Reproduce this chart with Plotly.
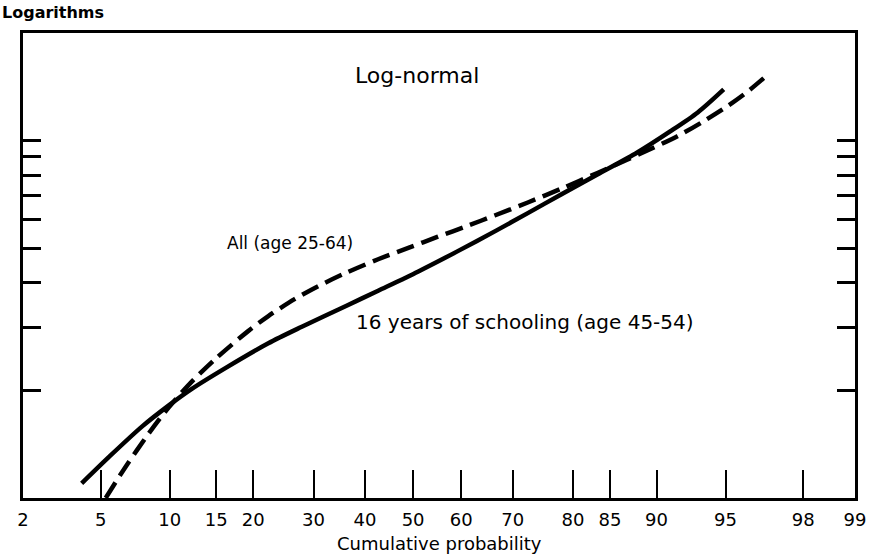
import math
import plotly.graph_objects as go
from statistics import NormalDist

# ---- data (cumulative probability %, value on log scale) ----
school_p = [4.05, 5.47, 7.69, 9.92, 12.2, 16.2, 22.3, 27.9, 36.3, 42.7, 51.0,
            59.3, 66.9, 72.7, 78.2, 83.4, 88.1, 91.2, 93.3, 94.9]
school_v = [1.099, 1.303, 1.586, 1.816, 2.020, 2.313, 2.710, 3.014, 3.451, 3.802, 4.298,
            4.906, 5.599, 6.268, 7.063, 8.036, 9.261, 10.605, 11.988, 13.906]

all_p = [5.28, 6.51, 8.21, 9.92, 12.2, 14.9, 19.3, 22.3, 26.7, 30.9, 36.0, 42.7, 49.0,
         55.2, 61.4, 66.6, 72.7, 78.2, 83.4, 87.0, 91.8, 93.7, 95.1, 96.1, 96.9]
all_v = [1.0, 1.224, 1.517, 1.794, 2.116, 2.450, 2.935, 3.229, 3.606, 3.916, 4.254, 4.656,
         5.011, 5.383, 5.782, 6.171, 6.712, 7.332, 8.119, 8.841, 10.288, 11.334, 12.478,
         13.729, 15.279]

prob_ticks = [2, 5, 10, 15, 20, 30, 40, 50, 60, 70, 80, 85, 90, 95, 98, 99]
log_ticks = [2, 3, 4, 5, 6, 7, 8, 9, 10]
y_range = [1, 20]

nd = NormalDist()
def z(p):
    return nd.inv_cdf(p / 100.0)

FONT = "DejaVu Sans"

fig = go.Figure()
fig.add_trace(go.Scatter(
    x=[z(p) for p in school_p], y=school_v, mode="lines",
    line=dict(color="black", width=4.5, shape="spline", smoothing=0.8),
    showlegend=False, hoverinfo="skip"))
fig.add_trace(go.Scatter(
    x=[z(p) for p in all_p], y=all_v, mode="lines",
    line=dict(color="black", width=4.5, dash="18px,8px", shape="spline", smoothing=0.8),
    showlegend=False, hoverinfo="skip"))

fig.update_layout(
    width=878, height=554,
    margin=dict(l=23, r=21, t=33, b=56),
    paper_bgcolor="white", plot_bgcolor="white",
    font=dict(family=FONT, color="black"),
    xaxis=dict(
        range=[z(prob_ticks[0]), z(prob_ticks[-1])],
        tickvals=[z(p) for p in prob_ticks],
        ticktext=[str(p) for p in prob_ticks],
        ticks="inside", ticklen=28, tickwidth=2, tickcolor="black",
        showline=True, linecolor="black", linewidth=2.5, mirror=True,
        showgrid=False, zeroline=False,
        tickfont=dict(family=FONT, size=18, color="black"),
        ticklabelstandoff=4,
    ),
    yaxis=dict(
        type="log",
        range=[math.log10(y_range[0]), math.log10(y_range[1])],
        tickvals=log_ticks,
        showticklabels=False,
        ticks="inside", ticklen=18, tickwidth=2.5, tickcolor="black",
        showline=True, linecolor="black", linewidth=2.5, mirror="ticks",
        showgrid=False, zeroline=False,
    ),
    annotations=[
        dict(text="Logarithms", xref="paper", yref="paper", x=-23/834, y=1 + 33/465,
             xanchor="left", yanchor="top", showarrow=False, yshift=-1,
             font=dict(family=FONT, size=16, color="black", weight="bold")),
        dict(text="Log-normal", xref="paper", yref="paper", x=(418 - 23) / 834,
             y=(498 - 75) / 465, xanchor="center", yanchor="middle", showarrow=False,
             font=dict(family=FONT, size=22, color="black")),
        dict(text="All (age 25-64)", xref="paper", yref="paper", x=(225 - 23) / 834,
             y=(498 - 243) / 465, xanchor="left", yanchor="middle", showarrow=False,
             font=dict(family=FONT, size=17, color="black")),
        dict(text="16 years of schooling (age 45-54)", xref="paper", yref="paper",
             x=(355 - 23) / 834, y=(498 - 322) / 465, xanchor="left", yanchor="middle",
             showarrow=False, font=dict(family=FONT, size=20, color="black")),
        dict(text="Cumulative probability", xref="paper", yref="paper",
             x=(440 - 23) / 834, y=(498 - 543) / 465, xanchor="center", yanchor="middle",
             showarrow=False, font=dict(family=FONT, size=18, color="black")),
    ],
)

fig.write_html("out.html")
